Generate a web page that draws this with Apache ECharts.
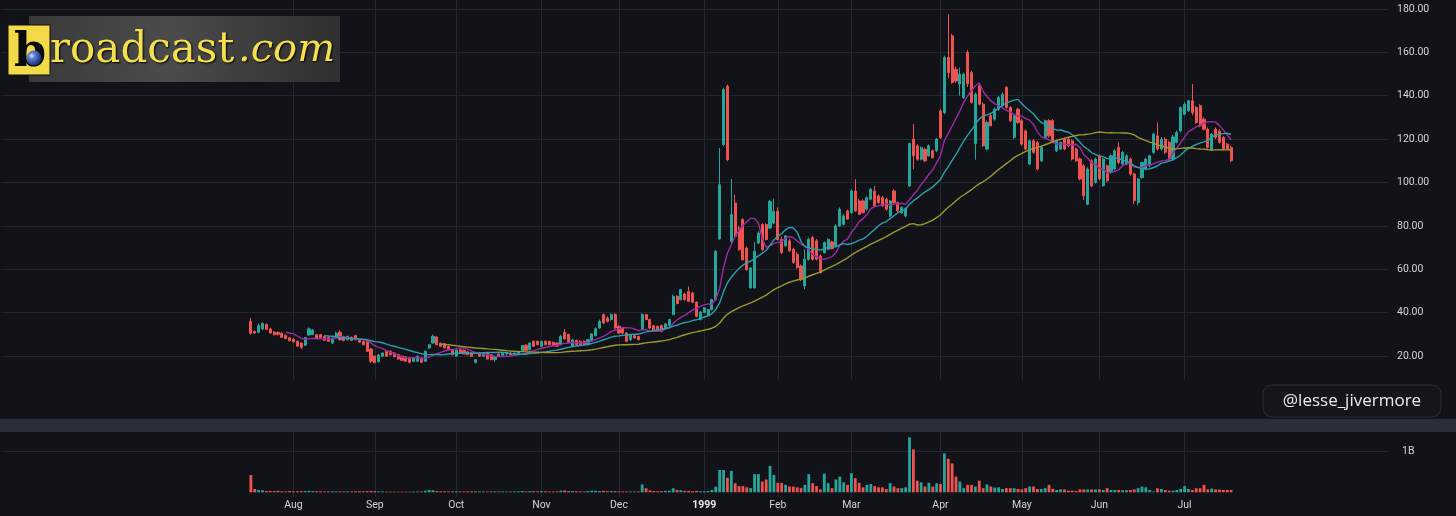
<!DOCTYPE html>
<html><head><meta charset="utf-8">
<script src="https://cdn.jsdelivr.net/npm/echarts@6/dist/echarts.min.js"></script>
<style>html,body{margin:0;padding:0;background:#121318;}#c{width:1456px;height:516px;}</style>
</head><body><div id="c"></div>
<script>
// ---- DATA (BCST daily, 1998-07-17 .. 1999-07-20) ----
const openP = [36,31.3,31,32.5,34.5,32.5,31,30.8,30.5,29.5,28.4,27.8,26.8,26,25,29.7,29.9,29.8,29.9,29.1,28.6,26,28.3,31,29,27.5,28.6,29.4,27.5,26.8,26.6,23.2,19.9,17.4,19.9,22.2,22.2,21.4,20.6,19.9,19.6,19.1,17.6,17.6,19.1,17.6,23.7,26,28.8,25.9,25.7,24.5,22.9,20,22.9,22.6,21.9,21.5,17.1,21.4,19.9,21.4,20.6,18.3,20.9,20.4,21,21.4,20.6,21,22.4,25,22.9,26.8,26.8,24.5,26.8,26.8,26.3,26,25.2,30.9,29.9,24.5,27.2,26.8,26.8,25.2,27.2,29.4,32.9,39.1,37.5,36.8,39.1,33.7,32.9,30.6,27.5,29.4,29,32.2,39.1,36.8,34,33.7,34,32.5,34,39.1,47.5,46,48.6,49.8,49.1,44.8,36.8,40,38.6,41.4,46,74,117.5,144.4,72.9,90.6,79,82.9,69.8,51.4,51.4,72.1,80.6,80.6,79,81.3,86.7,73.7,70.8,73.1,69.2,66.9,61.5,52.3,64.6,74.6,73.1,66.1,67.7,69.2,72.6,70.8,80,80.7,86.9,86.1,96.1,91.5,91.5,87.7,92.3,96,93.8,93,92.3,84.6,96.1,90.7,86.1,84.6,98.4,120,116.9,110.7,115.3,112.3,114.6,114.6,133,132.2,157.6,167.6,152.2,145.4,139.2,160,150.7,118,144.6,136.1,115.4,130.8,129.2,133.8,135.4,143.8,134.6,120.8,133.8,128.5,123.8,108.5,119.2,118.5,110,120.8,128.5,128.5,114.6,115.4,120,120,119.2,115.4,110.8,107.7,90,110,100,112.3,98.5,107.7,104.6,106.2,116.2,108.5,108.5,110.8,103.9,90.8,102.3,106.2,107.7,113.9,121.5,115.4,120,118.5,110.8,118.5,123.8,131.5,133.1,137.7,134.6,135.4,129.2,124.6,115.4,124.6,123.8,120.8,117.7,116.2];
const highP = [37.6,31.8,35,35.5,35,33,31.5,31.4,31,30,28.8,28.2,27.2,26.4,28.8,33.2,32.5,30.2,30.2,29.5,29,28.6,31.2,31.9,29.4,29.4,29,29.8,27.9,27,27,23.6,20.3,20.9,21.6,22.6,22.6,21.8,21,20.2,20,19.5,19.4,20.2,19.4,22.5,25.4,29.9,29.2,26.2,26,24.8,23.2,23.1,23.2,23,22.2,21.8,18.6,21.7,21.7,21.8,20.9,20.1,21.2,21.7,22,21.8,21.7,22.3,25,25.5,26.2,27.2,27.1,26.9,27.1,27,26.6,26.3,29.8,32.5,30.3,27.8,27.5,27.1,27.1,27.8,30.6,33.2,36.8,39.6,38.2,39.6,39.8,34.2,33.2,31,30.2,29.8,29.3,39.8,39.5,37.2,34.4,34,34.5,35.2,37.2,48.3,48,51,49.1,52.1,49.6,45.2,40.8,42.6,41.8,46.4,68.8,115.9,143.6,145.1,101.6,94.4,80,83.5,70.5,61,72.4,77.5,81.2,81.2,92,92.5,88.5,75,75.8,74,70,68,62.2,69.2,74.6,75.4,74,66.8,72.8,74.2,73.2,80.7,88.5,85.5,87.5,96.9,101.5,92.5,92.2,93.5,97.5,98.4,94.5,93.8,93,92,96.9,91.2,89,88.5,118.4,126.9,117.5,116.6,116,117.5,115.2,120.5,133.8,158.5,177.6,168.5,153.5,153,150.7,161,151.5,141.5,145.4,136.9,128.5,131.5,134.6,139.8,141.5,144.5,135.2,131.5,134.5,129.2,124.5,119.8,120,119.2,116.9,129,129.2,129.2,119.8,118.8,120.8,120.6,119.8,116,111.5,108.5,107,110.8,111.5,113,111.5,108.3,113,115.4,118.5,114.6,113,111.5,104.5,102,109.6,111.2,112.8,123,127.7,121,120.8,119.2,122,124,135,137,138.2,145.4,135.2,136.1,130,125.4,122.8,125.4,124.5,121.5,118.2,116.9];
const lowP = [29.8,30.2,30.5,32,32,30.3,29.5,29.5,28.4,27.8,26.8,26.3,24.4,23.2,24.6,29.4,29.6,27.8,28.2,27,26.5,25.5,28,27.2,26.8,27.2,27,27.2,26.2,25,22,16.8,16.8,17,19.5,19.6,20.3,19.4,18.4,17.8,17.4,16.5,17.2,17.3,17,17.3,23.3,25.7,25,24.3,23.5,22.6,20.4,19.6,21.2,20.8,20.4,19.6,16.5,19.6,19.5,18.4,18,17.3,19.5,19.7,20.2,20.3,20.3,20.6,22,22.3,22.5,24.2,25,24.2,25,25,24.5,24.2,24.9,27.6,26.2,24,24.8,25,25,24.8,26.8,29,32.5,34.8,35.5,36.3,32.5,30.2,30.2,26.4,27,28,27.2,31.8,36.5,32.5,31.6,31.1,31,32.2,33.6,38.8,43.8,45.6,45.6,44.8,44.4,37.9,36.4,39.8,38.2,41,45.6,73.6,116.7,109.8,72.1,74.8,68.5,64,59.4,51,51,71.5,68.5,73.3,78.5,80.8,73.3,67,70.3,68,62.5,60.2,54.6,50.8,64,64,64,58,67.2,68.8,69.2,70.3,79.5,80.2,82.8,85.5,86.5,85,85.8,87,91.8,89,90.2,88.8,87,84,90.2,86.5,85.5,84,98,106.1,110,110.2,109.5,112,111,114,120,131.5,148,145.5,146,140,138.5,144,136.3,110.5,135.5,116.5,114.8,126,128.5,133,134.8,134,127.8,120,127,117,115,108,113.2,105.5,109.5,120.2,120.8,118.5,114,115,114.8,116.3,110.2,109.5,101,92,89.5,97.8,99.5,101,98,100.2,104,105.5,108.5,108,108,103.2,90,89.5,101.8,105.5,107,113.2,114.8,114.8,113.2,110.2,110.2,118,123,131,132.5,131,127,125.5,124,115.6,114.5,120,118,114.8,115,109.5];
const closeP = [30.5,30.6,34,35,32.3,30.6,29.8,30,28.6,28,27,26.5,24.5,24,28.5,32.5,31.9,28,28.5,27.2,26.8,28.3,30.6,27.5,27.2,29,27.2,27.5,26.4,25.2,22.2,17.6,16.9,20.5,21.4,19.9,20.6,19.6,18.6,18,17.6,17.1,19.1,19.9,17.1,22.2,25.2,29.1,25.2,24.5,23.7,22.8,20.6,22.8,21.4,20.9,20.6,19.9,18.3,19.9,21.4,18.6,18.3,19.6,19.9,21.4,21.7,20.6,21.4,22.2,24.8,22.6,26,24.5,25.2,26.8,25.2,25.2,24.8,24.5,29.1,27.9,26.3,27.5,25.2,25.2,25.2,27.5,30.2,32.6,36,35.2,36,39.1,32.9,30.6,30.6,26.8,29.9,28.3,27.5,39.1,36.8,32.9,31.9,31.4,31.4,34.8,36.8,47.5,44.2,50.6,46,45.2,44.8,38.3,40.3,42.2,41.4,46,68.3,99,142.8,110.5,85.2,75.2,69,64.4,59.8,60.6,68.3,76.7,69,73.7,91.3,86.7,73.7,67.7,75.4,68.5,63.1,60.8,55.4,64.6,73.8,64.6,64.6,58.5,72.3,73.8,69.5,80,87.7,84.6,83.1,96.1,86.9,85.4,86.1,93,96.9,89.2,90.7,89.2,87.7,91.5,90.7,86.9,88.5,88,118,112.3,110.7,116.1,110,116.9,111.5,120,120.7,157.6,150.7,146.1,146.8,150,149.9,145.5,136.9,140.7,136.1,116.9,127.7,126.1,133.8,139.2,140.7,134.6,128.5,130.8,127.7,117.7,115.4,119.2,113.9,106.2,116.2,128.5,121.5,119.2,119.2,118.5,115.4,116.9,110.8,110,101.6,93.9,106.2,98.5,110.8,101.6,110.8,100.8,112.3,114.6,109.2,113.9,112.3,103.9,91.6,101.6,109.2,110.8,112.3,122.3,115.4,120,113.9,110.8,121,123.1,134.6,136.1,137.7,132.3,127.7,126.1,124.6,116.2,122.3,120.8,118.5,115.4,115.4,110];
// volume in millions of shares
const volumeM = [420,80,56,48,30,32,28,35,25,22,30,22,25,28,30,35,28,25,22,20,22,25,22,22,20,22,20,25,25,25,28,30,28,22,20,18,15,15,15,15,15,15,18,18,20,40,56,50,30,25,25,20,22,25,22,20,22,25,25,22,20,18,20,22,20,20,18,18,22,25,30,22,28,25,22,30,25,22,20,22,40,45,30,30,25,22,20,30,40,35,30,35,25,30,28,22,20,20,18,18,20,190,97,45,30,25,30,35,40,97,60,50,35,35,30,35,25,25,30,56,137,540,540,350,520,220,150,150,120,100,440,440,260,310,640,420,230,230,180,140,140,120,100,180,440,220,150,70,450,220,100,310,380,240,180,460,340,230,120,180,200,150,120,120,80,220,140,100,100,120,1330,1040,280,240,140,230,140,220,200,940,810,700,380,260,100,180,180,140,280,100,190,140,115,120,80,100,100,100,80,70,100,140,140,80,80,100,180,80,56,70,70,40,40,32,70,70,70,70,70,70,56,100,56,56,56,50,50,56,70,100,137,120,56,20,97,80,56,40,40,56,80,150,80,56,97,97,180,70,90,70,65,56,56,56];
const holidays = ['1998-09-07','1998-11-26','1998-12-25','1999-01-01','1999-01-18','1999-02-15','1999-04-02','1999-05-31','1999-07-05'];
const firstDay = [1998, 6, 17];
const lastDay = [1999, 6, 20];
const monthNames = ['Jan','Feb','Mar','Apr','May','Jun','Jul','Aug','Sep','Oct','Nov','Dec'];
const maPeriods = [10, 20, 50];
const maColors = ['#9c2aa6', '#2a9fae', '#9b9a2e'];

// ---- trading-day categories ----
const dates = [];
(function(){
  let t = Date.UTC(firstDay[0], firstDay[1], firstDay[2]);
  const end = Date.UTC(lastDay[0], lastDay[1], lastDay[2]);
  while (t <= end) {
    const d = new Date(t);
    const s = d.toISOString().slice(0, 10);
    const w = d.getUTCDay();
    if (w !== 0 && w !== 6 && holidays.indexOf(s) < 0) dates.push(s);
    t += 86400000;
  }
})();
const N = dates.length;
const PAD_L = 64, PAD_R = 40;
const cats = [];
for (let i = 0; i < PAD_L; i++) cats.push('pl' + i);
for (let i = 0; i < N; i++) cats.push(dates[i]);
for (let i = 0; i < PAD_R; i++) cats.push('pr' + i);
const monthStart = new Set();
for (let i = 1; i < N; i++) {
  if (dates[i].slice(5, 7) !== dates[i - 1].slice(5, 7)) monthStart.add(i + PAD_L);
}

const UP = '#26a69a', DOWN = '#ef5350';
const candleData = [], volData = [];
for (let i = 0; i < N; i++) {
  const k = i + PAD_L;
  candleData.push([k, openP[i], closeP[i], lowP[i], highP[i]]);
  volData.push({ value: [k, volumeM[i]], itemStyle: { color: closeP[i] >= openP[i] ? UP : DOWN } });
}
function sma(n) {
  const out = [];
  for (let i = n - 1; i < N; i++) {
    let s = 0;
    for (let j = i - n + 1; j <= i; j++) s += closeP[j];
    out.push([i + PAD_L, +(s / n).toFixed(3)]);
  }
  return out;
}

// ---- layout ----
const GL = 1, GW = 1387;
const BW = GW / cats.length;
const OL = GL + BW / 2, OW = GW - BW;
const MAIN_TOP = 0, MAIN_H = 399.4, PX_PER = 2.169;
const VOL_TOP = 432, VOL_H = 60.3;

const labelColor = '#d1d4dc';
const gridColor = '#242731';
const fam = 'Roboto, "Noto Sans", sans-serif';

const chart = echarts.init(document.getElementById('c'), null, { renderer: 'canvas' });
const monthFmt = v => {
  if (!/^\d{4}-/.test(v)) return '';
  const m = +v.slice(5, 7);
  return m === 1 ? '{b|' + v.slice(0, 4) + '}' : monthNames[m - 1];
};
const isMonth = (idx) => monthStart.has(idx);

chart.setOption({
  backgroundColor: '#121318',
  animation: false,
  grid: [
    { left: GL, width: GW, top: MAIN_TOP, height: MAIN_H, outerBoundsMode: 'none' },
    { left: OL, width: OW, top: 0, height: 380, outerBoundsMode: 'none' },
    { left: GL, width: GW, top: VOL_TOP, height: VOL_H, outerBoundsMode: 'none' },
    { left: OL, width: OW, top: VOL_TOP, height: 65, outerBoundsMode: 'none' }
  ],
  xAxis: [
    { gridIndex: 0, type: 'category', data: cats, boundaryGap: true, show: false },
    { gridIndex: 1, type: 'category', data: cats, boundaryGap: false,
      axisLine: { show: false }, axisTick: { show: false }, axisLabel: { show: false },
      splitLine: { show: true, interval: isMonth, lineStyle: { color: gridColor, width: 1 } } },
    { gridIndex: 2, type: 'category', data: cats, boundaryGap: true, show: false },
    { gridIndex: 3, type: 'category', data: cats, boundaryGap: false,
      axisLine: { show: false }, axisTick: { show: false },
      axisLabel: { show: true, interval: isMonth, formatter: monthFmt, margin: 3,
        color: labelColor, fontSize: 10.5, fontFamily: fam,
        rich: { b: { fontWeight: 'bold', fontSize: 10.5, color: '#e6e8ee', fontFamily: fam } } },
      splitLine: { show: true, interval: isMonth, lineStyle: { color: gridColor, width: 1 } } }
  ],
  yAxis: [
    { gridIndex: 0, type: 'value', position: 'right', min: 0, max: +(MAIN_H / PX_PER).toFixed(2), interval: 20,
      axisLine: { show: false }, axisTick: { show: false },
      axisLabel: { show: true, margin: 9, align: 'left', color: labelColor, fontSize: 10.5, fontFamily: fam,
        showMinLabel: false, showMaxLabel: false, formatter: v => v.toFixed(2) },
      splitLine: { show: true, showMinLine: false, showMaxLine: false, lineStyle: { color: gridColor, width: 1 } } },
    { gridIndex: 1, type: 'value', show: false, min: 0, max: 1, splitLine: { show: false } },
    { gridIndex: 2, type: 'value', position: 'right', min: 0, max: 1460, interval: 1000,
      axisLine: { show: false }, axisTick: { show: false },
      axisLabel: { show: true, margin: 14, align: 'left', color: labelColor, fontSize: 10.5, fontFamily: fam,
        showMinLabel: false, showMaxLabel: false, formatter: v => (v === 1000 ? '1B' : '') },
      splitLine: { show: true, showMinLine: false, showMaxLine: false, lineStyle: { color: gridColor, width: 1 } } },
    { gridIndex: 3, type: 'value', show: false, min: 0, max: 1, splitLine: { show: false } }
  ],
  series: [
    { type: 'candlestick', xAxisIndex: 0, yAxisIndex: 0, data: candleData,
      encode: { x: 0, y: [1, 2, 3, 4] }, barWidth: 2.6, z: 2,
      itemStyle: { color: UP, color0: DOWN, borderColor: UP, borderColor0: DOWN, borderWidth: 1 } },
    ...maPeriods.map((p, j) => ({
      type: 'line', xAxisIndex: 0, yAxisIndex: 0, data: sma(p), showSymbol: false, symbol: 'none',
      smooth: false, z: 3, lineStyle: { color: maColors[j], width: 1.4 }
    })),
    { type: 'bar', xAxisIndex: 2, yAxisIndex: 2, data: volData, barWidth: 2.8 }
  ],
  graphic: [
    { type: 'rect', shape: { x: 0, y: 419, width: 1456, height: 13 }, style: { fill: '#2a2e39' }, z: 10 },
    // logo
    { type: 'rect', shape: { x: 29, y: 16, width: 311, height: 66 }, z: 20,
      style: { fill: new echarts.graphic.LinearGradient(0, 0, 1, 0, [
        { offset: 0, color: '#3a3a3a' }, { offset: 0.45, color: '#4b4b4b' }, { offset: 1, color: '#2f2f2f' }]) } },
    { type: 'rect', shape: { x: 8, y: 25, width: 42, height: 50 }, z: 21,
      style: { fill: '#f2da48', stroke: '#111', lineWidth: 1 } },
    { type: 'text', z: 22, style: { text: 'b', x: 30, y: 54, align: 'center', verticalAlign: 'middle',
      fontSize: 46, fontWeight: 'bold', fontFamily: '"DejaVu Serif", serif', fill: '#0a0a0a' } },
    { type: 'circle', z: 23, shape: { cx: 34, cy: 58, r: 7.5 },
      style: { fill: new echarts.graphic.RadialGradient(0.35, 0.35, 0.7, [
        { offset: 0, color: '#dfe8ff' }, { offset: 0.3, color: '#5b7fd6' }, { offset: 1, color: '#142a6a' }]) } },
    { type: 'text', z: 22, style: { text: 'roadcast', x: 50, y: 51, verticalAlign: 'middle',
      fontSize: 42, fontFamily: '"DejaVu Serif", serif', fill: '#f4df4d',
      textShadowColor: '#000', textShadowBlur: 2, textShadowOffsetX: 1, textShadowOffsetY: 1 } },
    { type: 'text', z: 22, style: { text: '.com', x: 238, y: 51, verticalAlign: 'middle',
      fontSize: 40, fontStyle: 'italic', fontFamily: '"DejaVu Serif", serif', fill: '#f4df4d',
      textShadowColor: '#000', textShadowBlur: 2, textShadowOffsetX: 1, textShadowOffsetY: 1 } },
    // watermark
    { type: 'rect', z: 20, shape: { x: 1263, y: 385, width: 178, height: 32, r: 9 },
      style: { fill: '#15161b', stroke: '#2c2e35', lineWidth: 1 } },
    { type: 'text', z: 21, style: { text: '@lesse_jivermore', x: 1352, y: 401, align: 'center', verticalAlign: 'middle',
      fontSize: 17, fontFamily: '"Open Sans", "Noto Sans", sans-serif', fill: '#ececec' } }
  ]
});
</script>
</body></html>
